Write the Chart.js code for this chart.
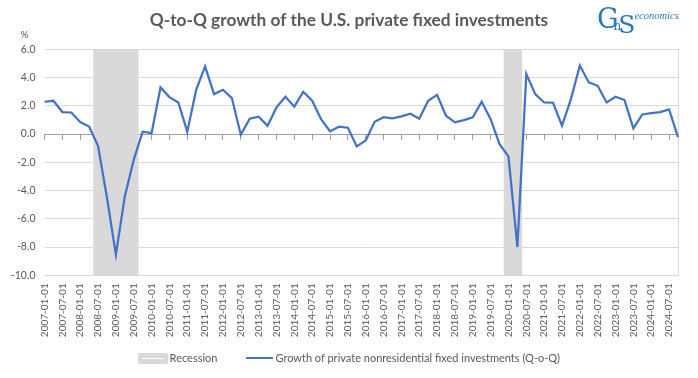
<!DOCTYPE html>
<html>
<head>
<meta charset="utf-8">
<script src="https://cdn.jsdelivr.net/npm/chart.js@4.4.1/dist/chart.umd.min.js"></script>
<style>
  html, body { margin: 0; padding: 0; background: #ffffff; }
  #wrap { position: relative; width: 698px; height: 378px; }
  #logo { position: absolute; left: 597px; top: 3px; color: #2b78b8; white-space: nowrap; }
  #logo .big { font-family: 'DejaVu Serif', serif; font-size: 27px; letter-spacing: -5px; }
  #logo .n { font-family: 'DejaVu Serif', serif; font-size: 12px; position: relative; top: 2px; letter-spacing: -3px; }
  #logo .s { font-family: 'DejaVu Serif', serif; font-size: 25px; position: relative; top: 5px; }
  #logo .eco { font-family: 'Liberation Serif', serif; font-style: italic; font-size: 10.5px; position: relative; top: -9px; left: -1px; }
  #legend { position: absolute; left: 0; top: 351px; width: 698px; display: flex; justify-content: center; align-items: center;
            font-family: 'Lato', sans-serif; font-size: 11px; line-height: 14px; color: #595959; white-space: nowrap; }
  #legend .item { display: flex; align-items: center; }
  #legend .rect { width: 30px; height: 11px; background: #d9d9d9; border-radius: 2px; position: relative; margin-right: 1.5px; }
  #legend .rect::after { content: ''; position: absolute; left: 4px; right: 4px; top: 5px; height: 1px; background: #ffffff; }
  #legend .line { width: 27px; height: 2.25px; margin-right: 2px; }
</style>
</head>
<body>
<div id="wrap">
  <canvas id="c" width="698" height="378"></canvas>
  <div id="logo"><span class="big">G</span><span class="n">n</span><span class="s">S</span><span class="eco">economics</span></div>
  <div id="legend"></div>
</div>
<script>
// ---- data ----
const titleText = 'Q-to-Q growth of the U.S. private fixed investments';
const seriesName = 'Growth of private nonresidential fixed investments (Q-o-Q)';
const recessionName = 'Recession';
const yMin = -10;
const yMax = 6;
const yStep = 2;

// quarters 2007-01-01 ... 2024-10-01
const categories = [];
for (let y = 2007; y <= 2024; y++) {
  for (const m of ['01', '04', '07', '10']) categories.push(y + '-' + m + '-01');
}

const growth = [
  2.29, 2.36, 1.56, 1.53, 0.85, 0.54, -0.83, -4.5,
  -8.54, -4.41, -1.82, 0.17, 0.07, 3.30, 2.62, 2.24,
  0.17, 3.14, 4.79, 2.83, 3.14, 2.55, -0.05, 1.09,
  1.23, 0.59, 1.89, 2.64, 1.94, 3.00, 2.36, 1.06,
  0.19, 0.52, 0.45, -0.87, -0.45, 0.87, 1.20, 1.11,
  1.25, 1.44, 1.09, 2.36, 2.78, 1.30, 0.83, 0.99,
  1.18, 2.29, 1.06, -0.71, -1.58, -8.00, 4.25, 2.83,
  2.24, 2.22, 0.59, 2.48, 4.86, 3.66, 3.42, 2.24,
  2.64, 2.41, 0.40, 1.39, 1.49, 1.56, 1.75, -0.21
];

const recession = [
  0, 0, 0, 0, 0, 0, 1, 1,
  1, 1, 1, 0, 0, 0, 0, 0,
  0, 0, 0, 0, 0, 0, 0, 0,
  0, 0, 0, 0, 0, 0, 0, 0,
  0, 0, 0, 0, 0, 0, 0, 0,
  0, 0, 0, 0, 0, 0, 0, 0,
  0, 0, 0, 0, 1, 1, 0, 0,
  0, 0, 0, 0, 0, 0, 0, 0,
  0, 0, 0, 0, 0, 0, 0, 0
];

const recessionBars = recession.map(r => r ? [yMin, yMax] : null);

const TXT = '#595959';
const GRID = '#d9d9d9';
const AXIS = '#a0a0a0';
const BLUE = '#4472c4';
const FONT = 'Lato';

const percentLabel = {
  id: 'percentLabel',
  afterDraw(chart) {
    const {ctx, chartArea} = chart;
    ctx.save();
    ctx.font = '10px ' + FONT;
    ctx.fillStyle = TXT;
    ctx.textAlign = 'center';
    ctx.textBaseline = 'middle';
    ctx.fillText('%', chartArea.left - 20, chartArea.top - 15);
    ctx.restore();
  }
};

const chart = new Chart(document.getElementById('c'), {
  type: 'line',
  data: {
    labels: categories,
    datasets: [
      {
        type: 'bar',
        label: recessionName,
        data: recessionBars,
        backgroundColor: GRID,
        borderWidth: 0,
        barPercentage: 1,
        categoryPercentage: 1,
        order: 2
      },
      {
        type: 'line',
        label: seriesName,
        data: growth,
        borderColor: BLUE,
        backgroundColor: BLUE,
        borderWidth: 2.25,
        pointRadius: 0,
        tension: 0,
        order: 1
      }
    ]
  },
  options: {
    responsive: false,
    devicePixelRatio: 1,
    animation: false,
    layout: { padding: { top: 0, left: 0, right: 0, bottom: 0 } },
    plugins: {
      title: {
        display: true,
        text: titleText,
        color: TXT,
        font: { family: FONT, size: 17.3, weight: 'bold' },
        padding: { top: 10.5, bottom: 18.1 }
      },
      legend: { display: false },
      tooltip: { enabled: false }
    },
    scales: {
      x: {
        type: 'category',
        offset: false,
        grid: { display: false, drawTicks: false },
        border: { display: false },
        ticks: {
          autoSkip: false,
          maxRotation: 90,
          minRotation: 90,
          padding: 8,
          color: TXT,
          font: { family: FONT, size: 10 },
          callback(v, i) { return i % 2 === 0 ? categories[i] : ''; }
        },
        afterFit(s) { s.height = 378 - 275.3; }
      },
      x2: {
        type: 'category',
        offset: false,
        position: { y: 0 },
        grid: {
          drawOnChartArea: false,
          drawTicks: true,
          tickLength: 5,
          tickColor: (c) => c.index % 2 === 0 ? AXIS : 'rgba(0,0,0,0)',
          tickWidth: (c) => c.index % 2 === 0 ? 1 : 0
        },
        border: { display: true, color: AXIS, width: 1 },
        ticks: { display: false }
      },
      y: {
        min: yMin,
        max: yMax,
        position: 'left',
        grid: {
          color: (c) => c.tick && c.tick.value === 0 ? AXIS : GRID,
          drawTicks: false
        },
        border: { display: false },
        ticks: {
          stepSize: yStep,
          padding: 9,
          color: TXT,
          font: { family: FONT, size: 10.5 },
          callback(v) { return v.toFixed(1); }
        },
        afterFit(s) { s.width = 44.5; }
      },
      y2: {
        position: 'right',
        grid: { drawOnChartArea: false, drawTicks: false },
        border: { display: true, color: GRID },
        ticks: { display: false },
        afterFit(s) { s.width = 16; }
      }
    }
  },
  plugins: [percentLabel]
});

// HTML legend built from the chart's datasets
(function buildLegend() {
  const box = document.getElementById('legend');
  chart.data.datasets.forEach((ds, i) => {
    const item = document.createElement('div');
    item.className = 'item';
    if (i > 0) item.style.marginLeft = '29px';
    const sw = document.createElement('div');
    if (ds.type === 'bar') {
      sw.className = 'rect';
      sw.style.background = ds.backgroundColor;
    } else {
      sw.className = 'line';
      sw.style.background = ds.borderColor;
    }
    const tx = document.createElement('span');
    tx.textContent = ds.label;
    item.appendChild(sw);
    item.appendChild(tx);
    box.appendChild(item);
  });
})();
</script>
</body>
</html>
